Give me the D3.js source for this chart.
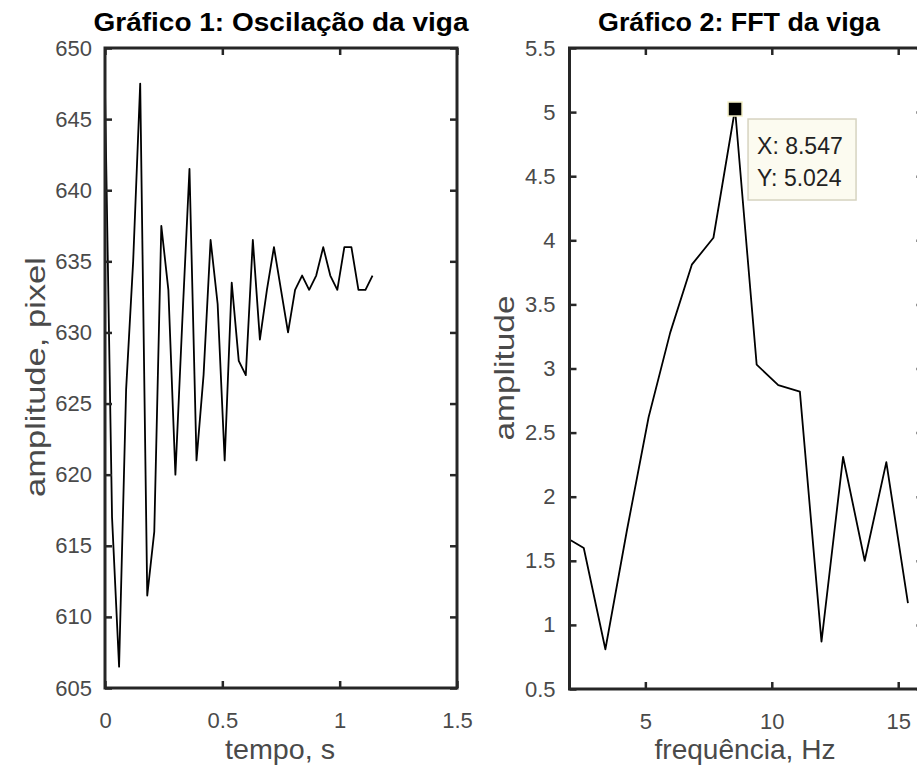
<!DOCTYPE html>
<html>
<head>
<meta charset="utf-8">
<style>
body { margin: 0; background: #fff; }
svg { display: block; font-family: "Liberation Sans", Arial, sans-serif; }
.tick text { fill: #4a4a4a; font-size: 22px; }
.lbl { fill: #4a4a4a; font-size: 28px; }
.ttl { fill: #000; font-size: 26px; font-weight: bold; }
.line { fill: none; stroke: #000; stroke-width: 1.8px; stroke-linejoin: round; }
</style>
</head>
<body>
<svg width="917" height="768" id="chart"></svg>
<script src="https://cdnjs.cloudflare.com/ajax/libs/d3/7.8.5/d3.min.js"></script>
<script>
// grafico 1: oscilacao (amostras a cada 0.03 s)
var dt = 0.03;
var amplitude = [647, 617, 606.5, 626, 635, 647.5, 611.5, 616, 637.5, 633,
                 620, 631, 641.5, 621, 627, 636.5, 632, 621, 633.5, 628,
                 627, 636.5, 629.5, 633, 636, 633, 630, 633, 634, 633,
                 634, 636, 634, 633, 636, 636, 633, 633, 634];
var tempoTicks = [0, 0.5, 1, 1.5];
var pixelTicks = [605, 610, 615, 620, 625, 630, 635, 640, 645, 650];

// grafico 2: FFT (bins de 0.8547 Hz, a partir do bin 2)
var df = 0.8547;
var fftAmp = [1.70, 1.60, 0.81, 1.74, 2.62, 3.28, 3.81, 4.02, 5.024,
              3.03, 2.87, 2.82, 0.87, 2.31, 1.50, 2.27, 1.17];
var freqTicks = [5, 10, 15];
var ampTicks = [0.5, 1, 1.5, 2, 2.5, 3, 3.5, 4, 4.5, 5, 5.5];
var tip = {x: 8.547, y: 5.024};

var svg = d3.select("#chart");
var fmt = function(d) { return String(d); };

function drawAxes(g, x, y, xt, yt, ypad) {
  var w = x.range()[1] - x.range()[0], h = y.range()[0] - y.range()[1];
  g.append("g").attr("class", "axis").attr("transform", "translate(0," + y.range()[0] + ")")
    .call(d3.axisBottom(x).tickValues(xt).tickFormat(fmt).tickSizeInner(-7).tickSizeOuter(0).tickPadding(24));
  g.append("g").attr("class", "axis").attr("transform", "translate(" + x.range()[0] + ",0)")
    .call(d3.axisLeft(y).tickValues(yt).tickFormat(fmt).tickSizeInner(-7).tickSizeOuter(0).tickPadding(ypad));
  g.append("g").attr("class", "axis").attr("transform", "translate(0," + y.range()[1] + ")")
    .call(d3.axisTop(x).tickValues(xt).tickFormat("").tickSizeInner(-7).tickSizeOuter(0));
  g.append("g").attr("class", "axis").attr("transform", "translate(" + x.range()[1] + ",0)")
    .call(d3.axisRight(y).tickValues(yt).tickFormat("").tickSizeInner(-7).tickSizeOuter(0));
  g.selectAll(".axis .domain").remove();
  g.selectAll(".axis line").attr("stroke", "#262626").attr("stroke-width", 2.5);
  g.append("rect").attr("x", x.range()[0]).attr("y", y.range()[1])
    .attr("width", w).attr("height", h)
    .attr("fill", "none").attr("stroke", "#262626").attr("stroke-width", 3);
}

function label(g, cls, tr, len, txt) {
  g.append("text").attr("class", cls).attr("transform", tr)
    .attr("text-anchor", "middle").attr("textLength", len).attr("lengthAdjust", "spacingAndGlyphs")
    .text(txt);
}

// ---- grafico 1
var x1 = d3.scaleLinear().domain([0, 1.5]).range([105, 457]);
var y1 = d3.scaleLinear().domain([605, 650]).range([688, 48]);
var g1 = svg.append("g");
g1.append("path").attr("class", "line")
  .attr("d", d3.line().x(function(d, i) { return x1(i * dt); }).y(function(d) { return y1(d); })(amplitude));
drawAxes(g1, x1, y1, tempoTicks, pixelTicks, 13);
label(g1, "ttl", "translate(281,31)", 375, "Gráfico 1: Oscilação da viga");
label(g1, "lbl", "translate(280,759)", 110, "tempo, s");
label(g1, "lbl", "translate(45,377) rotate(-90)", 240, "amplitude, pixel");

// ---- grafico 2
var x2 = d3.scaleLinear().domain([2, 16]).range([569.5, 923.5]);
var y2 = d3.scaleLinear().domain([0.5, 5.5]).range([689, 48]);
var g2 = svg.append("g");
g2.append("clipPath").attr("id", "clip2").append("rect")
  .attr("x", 569.5).attr("y", 48).attr("width", 354).attr("height", 641);
g2.append("path").attr("class", "line").attr("clip-path", "url(#clip2)")
  .attr("d", d3.line().x(function(d, i) { return x2((i + 2) * df); }).y(function(d) { return y2(d); })(fftAmp));
drawAxes(g2, x2, y2, freqTicks, ampTicks, 14);
label(g2, "ttl", "translate(739,31)", 282, "Gráfico 2: FFT da viga");
label(g2, "lbl", "translate(745,759)", 181, "frequência, Hz");
label(g2, "lbl", "translate(514,368) rotate(-90)", 145, "amplitude");

// data tip
var tx = x2(tip.x), ty = y2(tip.y);
g2.append("rect").attr("x", tx - 7).attr("y", ty - 7).attr("width", 14).attr("height", 14)
  .attr("fill", "#000").attr("stroke", "#f4f0c8").attr("stroke-width", 1.5);
var tipG = g2.append("g").attr("transform", "translate(" + (tx + 13) + "," + (ty + 10) + ")");
tipG.append("rect").attr("width", 108).attr("height", 81)
  .attr("fill", "#fcfbf0").attr("stroke", "#d6d3c0").attr("stroke-width", 1.5);
tipG.append("text").attr("x", 9).attr("y", 35).attr("font-size", 23).attr("fill", "#222")
  .text("X: " + tip.x);
tipG.append("text").attr("x", 9).attr("y", 67).attr("font-size", 23).attr("fill", "#222")
  .text("Y: " + tip.y);
</script>
</body>
</html>
